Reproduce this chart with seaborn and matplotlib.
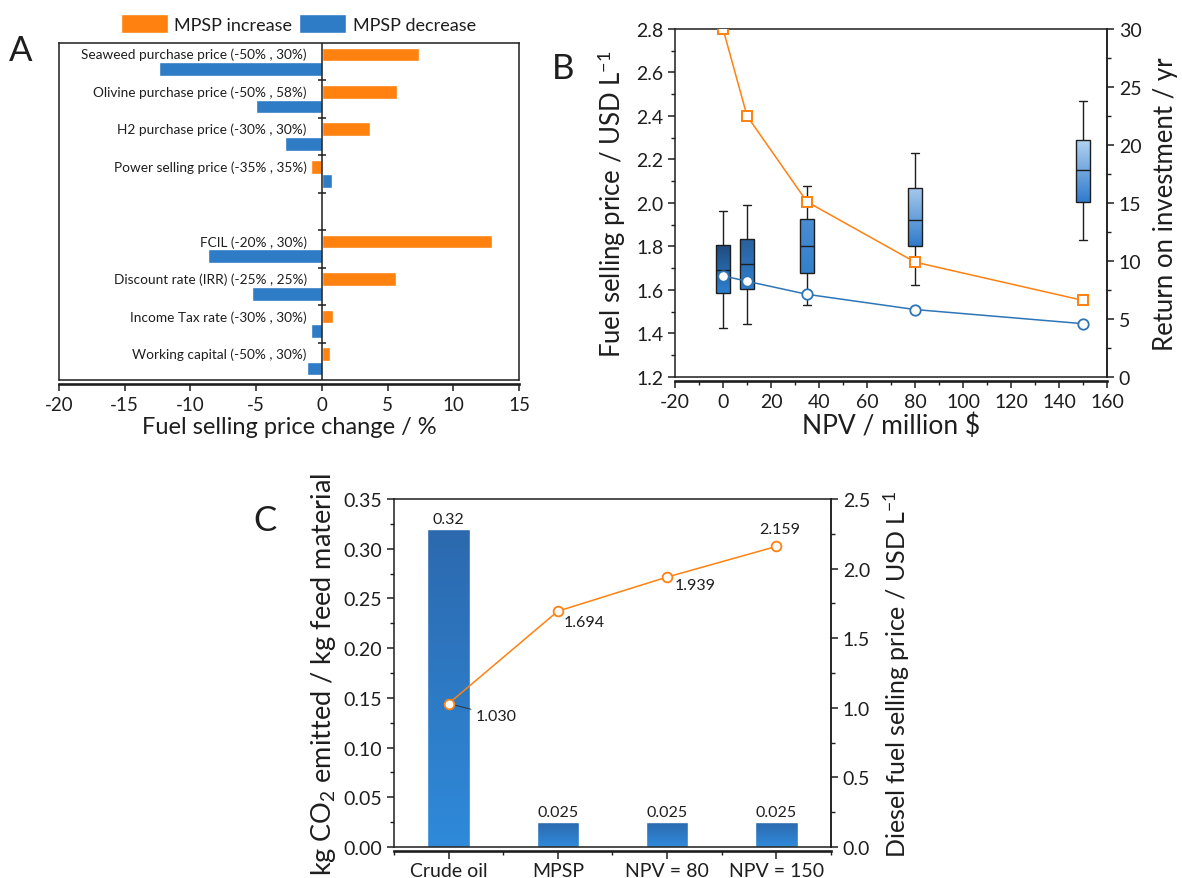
import numpy as np
import pandas as pd
import matplotlib
matplotlib.use("Agg")
import matplotlib.pyplot as plt
import seaborn as sns
from matplotlib.ticker import MultipleLocator, FormatStrFormatter
from matplotlib.colors import LinearSegmentedColormap

# ---------------------------------------------------------------
# data
# ---------------------------------------------------------------
# A - sensitivity of the fuel selling price
PARAMETERS = [
    "Seaweed purchase price (-50% , 30%)",
    "Olivine purchase price (-50% , 58%)",
    "H2 purchase price (-30% , 30%)",
    "Power selling price (-35% , 35%)",
    "FCIL (-20% , 30%)",
    "Discount rate (IRR) (-25% , 25%)",
    "Income Tax rate (-30% , 30%)",
    "Working capital (-50% , 30%)",
]
MPSP_INCREASE = [7.4, 5.7, 3.7, -0.85, 12.95, 5.65, 0.85, 0.65]
MPSP_DECREASE = [-12.4, -5.0, -2.8, 0.8, -8.7, -5.35, -0.8, -1.1]

# B - price distribution vs NPV target
NPV_TARGETS = [0, 10, 35, 80, 150]
BOX_MIN = [1.425, 1.445, 1.53, 1.625, 1.83]
BOX_Q1 = [1.585, 1.605, 1.68, 1.80, 2.005]
BOX_MEDIAN = [1.692, 1.72, 1.80, 1.92, 2.15]
BOX_Q3 = [1.807, 1.835, 1.925, 2.07, 2.29]
BOX_MAX = [1.965, 1.99, 2.08, 2.23, 2.47]
MPSP_BASE = [1.665, 1.64, 1.58, 1.51, 1.445]
ROI_YEARS = [30.0, 22.5, 15.1, 9.9, 6.6]

# C - emissions and diesel price
CASES = ["Crude oil", "MPSP", "NPV = 80", "NPV = 150"]
CO2_EMITTED = [0.32, 0.025, 0.025, 0.025]
DIESEL_PRICE = [1.030, 1.694, 1.939, 2.159]

# ---------------------------------------------------------------
# style
# ---------------------------------------------------------------
ORANGE = "#FF8110"
BLUE = "#2E7BC6"
LINE_BLUE = "#2E75B6"
INK = "#1E1E1E"
BOX_TOP = ["#1F4B7C", "#2A5F9C", "#4A8DD2", "#A9CAEC", "#B3D2F0"]
BOX_BOTTOM = ["#2E7FD0", "#2F80D0", "#3380CC", "#2F7BCB", "#2F7BCE"]

sns.set_style("ticks")
plt.rcParams["font.family"] = ["Lato", "DejaVu Sans"]
plt.rcParams["mathtext.fontset"] = "custom"
plt.rcParams["mathtext.rm"] = "Lato"
plt.rcParams["mathtext.it"] = "Lato:italic"
plt.rcParams["axes.unicode_minus"] = False
plt.rcParams["axes.edgecolor"] = INK
plt.rcParams["xtick.color"] = INK
plt.rcParams["ytick.color"] = INK
plt.rcParams["text.color"] = INK
plt.rcParams["axes.labelcolor"] = INK


def gradient_fill(ax, patch, top, bottom, z=2.1):
    bb = patch.get_path().get_extents(patch.get_patch_transform())
    cmap = LinearSegmentedColormap.from_list("grad", [bottom, top])
    grad = np.linspace(0, 1, 256).reshape(-1, 1)
    im = ax.imshow(grad, cmap=cmap, extent=(bb.x0, bb.x1, bb.y0, bb.y1),
                   origin="lower", aspect="auto", zorder=z, interpolation="bilinear")
    im.set_clip_path(patch)
    patch.set_facecolor("none")
    patch.set_zorder(z + 0.1)


def origin_frame(ax):
    # thin box plus a heavier x axis line just below it
    for s in ax.spines.values():
        s.set_visible(True)
        s.set_linewidth(1.1)
        s.set_color(INK)
    ax.spines["bottom"].set_position(("outward", 3))
    ax.spines["bottom"].set_linewidth(1.9)
    ax.plot([0, 1], [0, 0], transform=ax.transAxes, color=INK, lw=1.1,
            clip_on=False, zorder=5)
    ax.tick_params(which="major", direction="out", length=5, width=1.1)
    ax.tick_params(which="minor", direction="out", length=3, width=1)


fig = plt.figure(figsize=(11.82, 8.79), dpi=100)

# ---------------------------------------------------------------
# A
# ---------------------------------------------------------------
ax_a = fig.add_axes([0.0499, 0.5666, 0.3892, 0.3834])
order_a = PARAMETERS[:4] + [" "] + PARAMETERS[4:]
df_a = pd.DataFrame({
    "Parameter": PARAMETERS * 2,
    "Change": MPSP_INCREASE + MPSP_DECREASE,
    "Effect": ["MPSP increase"] * len(PARAMETERS) + ["MPSP decrease"] * len(PARAMETERS),
})
sns.barplot(data=df_a, x="Change", y="Parameter", hue="Effect", order=order_a,
            hue_order=["MPSP increase", "MPSP decrease"], palette=[ORANGE, BLUE],
            orient="h", width=0.78, gap=0.06, saturation=1, errorbar=None, ax=ax_a)
ax_a.set_xlim(-20, 15)
ax_a.set_ylim(len(order_a) - 0.5, -0.5)
ax_a.set_yticks([])
ax_a.set_ylabel("")
ax_a.axvline(0, color=INK, lw=1.1, zorder=3)
ax_a.plot(np.zeros(len(order_a) - 1), np.arange(len(order_a) - 1) + 0.5, ls="none",
          marker="_", ms=6, mew=1.1, color=INK, zorder=3)
for i, name in enumerate(order_a):
    if name.strip():
        ax_a.annotate(name, xy=(0, i - 0.2), xytext=(-15, 0), textcoords="offset pixels",
                      ha="right", va="center", fontsize=9.8)
origin_frame(ax_a)
ax_a.set_xticks(range(-20, 16, 5))
ax_a.tick_params(axis="x", labelsize=13.5)
ax_a.set_xlabel("Fuel selling price change / %", fontsize=17, labelpad=2)
sns.move_legend(ax_a, "lower center", bbox_to_anchor=(0.52, 1.0), ncol=2, frameon=False,
                title=None, fontsize=13, handlelength=2.6, handleheight=1.25,
                columnspacing=0.4, handletextpad=0.35, borderaxespad=0.15)

# ---------------------------------------------------------------
# B
# ---------------------------------------------------------------
ax_b = fig.add_axes([0.5711, 0.5700, 0.3655, 0.3959])
df_b = pd.DataFrame({
    "NPV": np.repeat(NPV_TARGETS, 5),
    "Price": np.column_stack([BOX_MIN, BOX_Q1, BOX_MEDIAN, BOX_Q3, BOX_MAX]).ravel(),
})
sns.boxplot(data=df_b, x="NPV", y="Price", native_scale=True, whis=(0, 100), width=0.6,
            color=BLUE, linecolor=INK, linewidth=1, showfliers=False, ax=ax_b)
for patch, top, bottom in zip(list(ax_b.patches), BOX_TOP, BOX_BOTTOM):
    gradient_fill(ax_b, patch, top, bottom)
for line in ax_b.lines:
    line.set_zorder(3)
sns.lineplot(x=NPV_TARGETS, y=MPSP_BASE, ax=ax_b, color=LINE_BLUE, lw=1.1, marker="o",
             ms=7.5, mfc="white", mec=LINE_BLUE, mew=1.3, zorder=6)
ax_b.set_xlim(-20, 160)
ax_b.set_ylim(1.2, 2.8)
ax_b.xaxis.set_major_locator(MultipleLocator(20))
ax_b.xaxis.set_minor_locator(MultipleLocator(10))
ax_b.yaxis.set_major_locator(MultipleLocator(0.2))
ax_b.yaxis.set_minor_locator(MultipleLocator(0.1))
ax_b.yaxis.set_major_formatter(FormatStrFormatter("%.1f"))
origin_frame(ax_b)
ax_b.tick_params(labelsize=14)
ax_b.set_xlabel("NPV / million $", fontsize=19, labelpad=2)
ax_b.set_ylabel("Fuel selling price / USD L$^{-1}$", fontsize=18.5, labelpad=6)

ax_b2 = ax_b.twinx()
sns.lineplot(x=NPV_TARGETS, y=ROI_YEARS, ax=ax_b2, color=ORANGE, lw=1.1, marker="s",
             ms=7.5, mfc="white", mec=ORANGE, mew=1.4, zorder=6)
ax_b2.set_ylim(0, 30)
ax_b2.set_xlim(-20, 160)
ax_b2.yaxis.set_major_locator(MultipleLocator(5))
ax_b2.yaxis.set_minor_locator(MultipleLocator(2.5))
for side in ["top", "bottom", "left"]:
    ax_b2.spines[side].set_visible(False)
ax_b2.spines["right"].set_linewidth(1.1)
ax_b2.tick_params(which="major", direction="out", length=5, width=1.1, labelsize=14)
ax_b2.tick_params(which="minor", direction="out", length=3, width=1)
ax_b2.set_ylabel("Return on investment / yr", fontsize=18.5, labelpad=8)

# ---------------------------------------------------------------
# C
# ---------------------------------------------------------------
ax_c = fig.add_axes([0.3333, 0.0353, 0.3697, 0.3959])
sns.barplot(x=CASES, y=CO2_EMITTED, color=BLUE, width=0.39, saturation=1, errorbar=None,
            ax=ax_c)
ax_c.bar_label(ax_c.containers[0], labels=[f"{v:g}" for v in CO2_EMITTED], padding=2,
               fontsize=11.5)
for patch in list(ax_c.patches):
    gradient_fill(ax_c, patch, "#2C69AE", "#2F8ADA", z=1.5)
ax_c.set_xlim(-0.5, len(CASES) - 0.5)
ax_c.set_ylim(0, 0.35)
ax_c.set_xticks(range(len(CASES)))
ax_c.set_xticklabels(CASES)
ax_c.xaxis.set_minor_locator(MultipleLocator(0.5))
ax_c.yaxis.set_major_locator(MultipleLocator(0.05))
ax_c.yaxis.set_minor_locator(MultipleLocator(0.025))
ax_c.yaxis.set_major_formatter(FormatStrFormatter("%.2f"))
origin_frame(ax_c)
ax_c.tick_params(labelsize=14)
ax_c.tick_params(axis="x", which="major", length=6, pad=1.5)
ax_c.set_ylabel("kg CO$_2$ emitted / kg feed material", fontsize=19.5, labelpad=4)

ax_c2 = ax_c.twinx()
sns.lineplot(x=np.arange(len(CASES)), y=DIESEL_PRICE, ax=ax_c2, color=ORANGE, lw=1.1,
             marker="o", ms=7, mfc="white", mec=ORANGE, mew=1.3, zorder=6)
ax_c2.set_ylim(0, 2.5)
ax_c2.set_xlim(-0.5, len(CASES) - 0.5)
ax_c2.yaxis.set_major_locator(MultipleLocator(0.5))
ax_c2.yaxis.set_minor_locator(MultipleLocator(0.25))
for side in ["top", "bottom", "left"]:
    ax_c2.spines[side].set_visible(False)
ax_c2.spines["right"].set_linewidth(1.1)
ax_c2.tick_params(which="major", direction="out", length=5, width=1.1, labelsize=14)
ax_c2.tick_params(which="minor", direction="out", length=3, width=1)
ax_c2.set_ylabel("Diesel fuel selling price / USD L$^{-1}$", fontsize=18, labelpad=8)

label_offsets = [(27, -12), (6, -11), (8, -8), (3, 17)]
label_align = [("left", "center"), ("left", "center"), ("left", "center"), ("center", "center")]
for i, (v, off, al) in enumerate(zip(DIESEL_PRICE, label_offsets, label_align)):
    arrow = dict(arrowstyle="-", color="#333333", lw=0.7, shrinkA=1, shrinkB=5) if i == 0 else None
    ax_c2.annotate(f"{v:.3f}", xy=(i, v), xytext=off, textcoords="offset pixels",
                   ha=al[0], va=al[1], fontsize=11.5, arrowprops=arrow)

# panel letters
fig.text(0.0178, 0.942, "A", fontsize=25, ha="center", va="center")
fig.text(0.4763, 0.921, "B", fontsize=25, ha="center", va="center")
fig.text(0.2242, 0.407, "C", fontsize=25, ha="center", va="center")

fig.savefig("out.png", dpi=100)
